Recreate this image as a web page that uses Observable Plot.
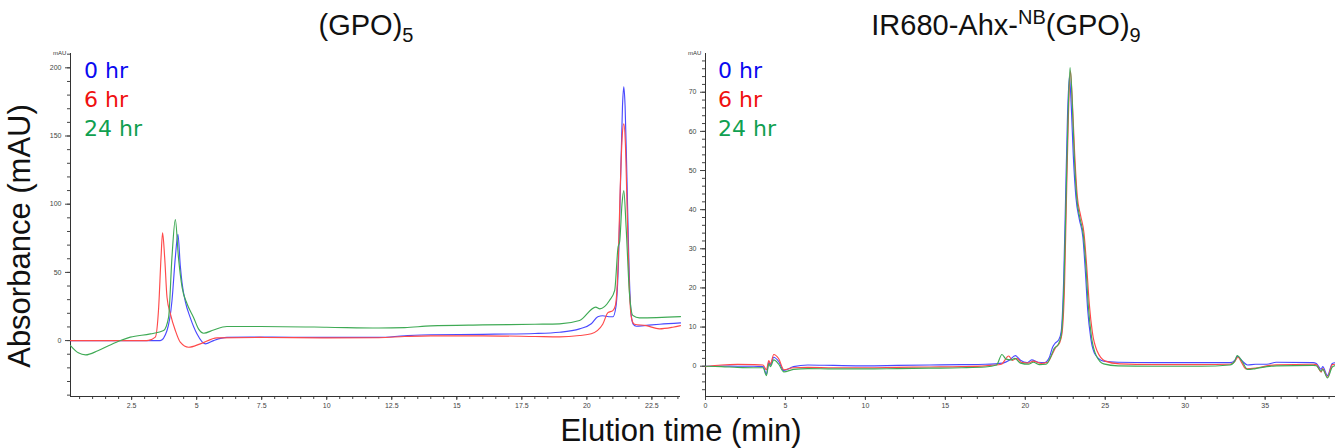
<!DOCTYPE html>
<html><head><meta charset="utf-8">
<script src="https://cdn.jsdelivr.net/npm/d3@7"></script>
<script src="https://cdn.jsdelivr.net/npm/@observablehq/plot@0.6"></script>
<style>
body{margin:0;background:#fff;}
#wrap{position:relative;width:1335px;height:448px;overflow:hidden;font-family:"Liberation Sans",Arial,sans-serif;color:#111;}
.abs{position:absolute;white-space:nowrap;line-height:1;}
.title{font-size:29px;transform:translateX(-50%);}
.title sub,.title sup{font-size:20px;line-height:0;}
.legend{font-family:"DejaVu Sans",Verdana,sans-serif;font-size:22px;line-height:29px;}
.unit{font-size:6px;color:#333;}
#p1,#p2{position:absolute;top:0;}
#p1{left:0;} #p2{left:640px;}
</style></head><body>
<div id="wrap">
  <div id="p1"></div><div id="p2"></div>
  <div class="abs title" style="left:366px;top:11px">(GPO)<sub>5</sub></div>
  <div class="abs title" style="left:1006px;top:11px">IR680-Ahx-<sup>NB</sup>(GPO)<sub>9</sub></div>
  <div class="abs" id="ylab" style="font-size:31px;left:19px;top:236px;transform:translate(-50%,-50%) rotate(-90deg);">Absorbance (mAU)</div>
  <div class="abs" style="font-size:31px;left:681px;top:415px;transform:translateX(-50%);">Elution time (min)</div>
  <div class="abs unit" style="left:53px;top:50px">mAU</div>
  <div class="abs unit" style="left:688px;top:50px">mAU</div>
  <div class="abs legend" id="leg1" style="left:84px;top:56px"></div>
  <div class="abs legend" id="leg2" style="left:718px;top:56px"></div>
</div>
<script>
// ---------- data ----------
const seriesNames = ["0 hr", "6 hr", "24 hr"];
const panelTitles = ["(GPO)5", "IR680-Ahx-NB(GPO)9"];

// Left panel: (GPO)5   [time (min), absorbance (mAU)]
const gpo_0hr = [[0.15,0],[3.0,0],[3.6,0],[3.86,7.4],[4.05,29],[4.18,61],[4.28,78],[4.37,55],[4.44,42],[4.56,29],[4.75,17],[5.01,5],[5.33,-2.4],[5.65,0],[6.16,2.3],[7.44,2.5],[10,2.3],[12,2.3],[13,3.5],[14,4.3],[16,4.6],[18,5.2],[18.95,6.1],[19.72,8.6],[20.17,12.3],[20.42,17.5],[20.61,18.2],[20.85,17.5],[21.0,17.5],[21.12,25],[21.22,60],[21.3,120],[21.37,172],[21.42,186],[21.47,172],[21.54,120],[21.62,55],[21.7,20],[21.78,12],[21.9,10.5],[22.2,11],[22.8,12],[23.6,13]];
const gpo_6hr = [[0.15,0],[3.0,0],[3.15,0.2],[3.41,2.5],[3.54,24.5],[3.63,61],[3.69,79],[3.77,61],[3.86,31.8],[3.99,19.6],[4.18,7.4],[4.37,-1.2],[4.69,-4.9],[5.14,-2.4],[5.78,2.0],[7.44,2.3],[10,2.0],[12,2.1],[13,3.0],[14,3.5],[16,3.5],[18,3.0],[18.95,2.7],[19.72,3.7],[20.17,5],[20.61,12],[20.81,20.5],[21.0,22],[21.1,26],[21.2,55],[21.28,110],[21.36,150],[21.42,159],[21.48,145],[21.55,95],[21.63,40],[21.72,16],[21.83,12],[22.28,11],[22.79,8.6],[23.3,9.8],[23.6,11]];
const gpo_24hr = [[0.15,-3.7],[0.45,-9],[0.73,-10.5],[1.2,-7.5],[1.7,-3],[2.07,0],[2.45,2.5],[3.22,4.9],[3.73,7.4],[3.92,17],[4.05,61],[4.18,88.7],[4.3,61],[4.44,39],[4.63,27],[4.88,17],[5.07,8.6],[5.27,5.4],[5.65,7.8],[6.16,10.3],[7.44,10.3],[10,9.8],[12,9.2],[13,9.5],[14,10.8],[16,11.5],[18,12],[18.95,12.3],[19.72,14.7],[20.34,24.5],[20.5,23.3],[20.87,29.4],[21.07,36.8],[21.2,68.6],[21.26,72.3],[21.35,100],[21.42,110],[21.51,83],[21.64,34],[21.77,18.4],[22.02,16.7],[23.6,17.6]];

// Right panel: IR680-Ahx-NB(GPO)9
const ir_0hr = [[0,0],[1,0.05],[2,0],[3,0],[3.6,-0.1],[3.81,-2.0],[3.96,1.0],[4.06,0.3],[4.27,2.3],[4.58,1.2],[4.9,-1.1],[5.5,-0.1],[6.4,0.3],[8,0.2],[10,0.1],[12,0.2],[14,0.3],[16,0.4],[17.5,0.5],[18.6,0.8],[19.0,1.5],[19.38,2.7],[19.7,1.5],[20.1,0.9],[20.4,1.6],[20.8,1.0],[21.2,0.9],[21.5,2.2],[21.7,4.8],[21.85,5.8],[22.1,6.8],[22.25,9],[22.4,22],[22.52,43],[22.64,64],[22.76,74],[22.88,66],[23.0,54],[23.17,43],[23.38,37.5],[23.6,33],[23.76,24],[23.9,14.5],[24.1,7],[24.4,2.8],[24.9,1.3],[25.8,1.0],[28,0.9],[31,0.9],[32.8,0.9],[33.1,1.5],[33.27,2.5],[33.6,1.2],[33.9,0.3],[34.4,0.5],[35.1,0.5],[35.7,1.0],[38.0,0.9],[38.2,0.7],[38.5,-0.8],[38.6,-0.1],[38.9,-2.4],[39.2,0.7],[39.4,0.9]];
const ir_6hr = [[0,-0.1],[1,0.3],[2,0.45],[3,0.4],[3.6,0.3],[3.81,-0.9],[3.96,1.45],[4.06,0.6],[4.27,3.0],[4.58,1.9],[4.9,-0.9],[5.5,-0.4],[6.4,-0.3],[8,-0.4],[10,-0.4],[12,-0.3],[14,-0.2],[16,-0.1],[17.5,0.1],[18.5,0.5],[18.96,2.6],[19.2,1.5],[19.45,2.0],[19.8,0.9],[20.2,0.8],[20.5,1.3],[21.0,0.7],[21.4,1.0],[21.7,3.2],[21.9,4.8],[22.15,6.0],[22.3,8.5],[22.45,20],[22.57,42],[22.69,63],[22.82,75.5],[22.95,67],[23.08,55],[23.25,43.5],[23.46,38.5],[23.67,34],[23.84,25.5],[24.0,16],[24.2,8.5],[24.5,3.8],[25.0,1.3],[25.9,0.6],[28,0.4],[31,0.4],[32.8,0.5],[33.1,1.2],[33.3,2.3],[33.55,0.8],[33.8,-0.7],[34.4,-0.5],[35.1,0.1],[35.7,0.35],[38.0,0.5],[38.2,0.4],[38.5,-1.5],[38.6,-0.6],[38.9,-2.8],[39.2,0.4],[39.4,0.5]];
const ir_24hr = [[0,0],[1,-0.1],[2,-0.3],[3,-0.4],[3.6,-0.4],[3.81,-2.4],[3.96,0.6],[4.06,-0.1],[4.27,1.6],[4.58,0.5],[4.9,-1.45],[5.5,-0.8],[6.4,-0.6],[8,-0.7],[10,-0.7],[12,-0.6],[14,-0.5],[16,-0.4],[17.5,-0.2],[18.2,0.3],[18.54,3.0],[18.8,1.8],[19.1,1.6],[19.35,2.0],[19.7,0.8],[20.2,0.5],[20.5,1.0],[20.9,0.4],[21.3,0.5],[21.6,2.5],[21.8,4.5],[22.05,5.5],[22.25,8],[22.42,21],[22.55,43],[22.68,65],[22.8,76.3],[22.93,68],[23.05,55],[23.22,43],[23.42,37.8],[23.63,33.5],[23.8,25],[23.94,15.5],[24.14,7.5],[24.45,2.6],[24.9,0.6],[25.8,0.1],[28,0.0],[31,0.0],[32.8,0.3],[33.1,1.3],[33.25,2.7],[33.55,1.3],[33.9,-0.85],[34.4,-0.6],[35.1,-0.1],[35.7,0.1],[38.0,0.2],[38.2,0.1],[38.5,-1.3],[38.6,-0.8],[38.9,-3.0],[39.2,-0.2],[39.4,0.2]];

// axis ticks
const gpoXMajor = [2.5, 5, 7.5, 10, 12.5, 15, 17.5, 20, 22.5];
const gpoYMajor = [0, 50, 100, 150, 200];
const irXMajor = [0, 5, 10, 15, 20, 25, 30, 35];
const irYMajor = [0, 10, 20, 30, 40, 50, 60, 70];

// ---------- drawing ----------
const lineColors = {"0 hr": "#4a4aff", "6 hr": "#ff4a4a", "24 hr": "#3faa55"};
const legendColors = {"0 hr": "#0a0af0", "6 hr": "#f01010", "24 hr": "#10a050"};

function rows(arrs) {
  const out = [];
  arrs.forEach((a, i) => a.forEach(([t, v]) => out.push({series: seriesNames[i], t, v})));
  return out;
}
function minorTicks(lo, hi, step) {
  const n0 = Math.ceil(lo / step - 1e-9), n1 = Math.floor(hi / step + 1e-9);
  return d3.range(n0, n1 + 1).map(k => +(k * step).toFixed(4));
}

function panel(cfg) {
  const data = rows(cfg.series);
  const axisStyle = {stroke: "#444", color: "#444"};
  const marks = [
    Plot.axisX({ticks: minorTicks(cfg.x[0], cfg.x[1], cfg.xMinor), tickSize: 3, tickFormat: () => "", label: null, ...axisStyle}),
    Plot.axisX({ticks: cfg.xMajor, tickSize: 4, tickPadding: 3, tickFormat: d => String(d), label: null, fontSize: 7, ...axisStyle}),
    Plot.axisY({ticks: minorTicks(cfg.y[0], cfg.y[1], cfg.yMinor), tickSize: 3, tickFormat: () => "", label: null, ...axisStyle}),
    Plot.axisY({ticks: cfg.yMajor, tickSize: 5, tickPadding: 4, tickFormat: d => String(d), label: null, fontSize: 7, ...axisStyle}),
    Plot.ruleX([cfg.x[0]], {stroke: "#333", strokeWidth: 1}),
    Plot.ruleY([cfg.y[0]], {stroke: "#333", strokeWidth: 1})
  ];
  for (const s of seriesNames) {
    marks.push(Plot.line(data.filter(d => d.series === s), {x: "t", y: "v", stroke: lineColors[s], strokeWidth: 1.15, curve: "monotone-x"}));
  }
  return Plot.plot({
    width: cfg.width, height: 420,
    marginLeft: cfg.ml, marginRight: cfg.mr, marginTop: 53, marginBottom: 24,
    style: {background: "transparent", fontFamily: "Liberation Sans, Arial, sans-serif", fontSize: "7px", overflow: "visible"},
    x: {domain: cfg.x},
    y: {domain: cfg.y},
    marks
  });
}

document.getElementById("p1").append(panel({
  width: 690, ml: 70, mr: 10,
  x: [0.15, 23.6], y: [-41, 210.5],
  xMajor: gpoXMajor, yMajor: gpoYMajor, xMinor: 0.5, yMinor: 10,
  series: [gpo_0hr, gpo_6hr, gpo_24hr]
}));
document.getElementById("p2").append(panel({
  width: 695, ml: 65, mr: 0,
  x: [0, 39.4], y: [-7.74, 79.9],
  xMajor: irXMajor, yMajor: irYMajor, xMinor: 1, yMinor: 2,
  series: [ir_0hr, ir_6hr, ir_24hr]
}));

for (const id of ["leg1", "leg2"]) {
  const el = document.getElementById(id);
  for (const s of seriesNames) {
    const d = document.createElement("div");
    d.textContent = s;
    d.style.color = legendColors[s];
    el.append(d);
  }
}
</script>
</body></html>
